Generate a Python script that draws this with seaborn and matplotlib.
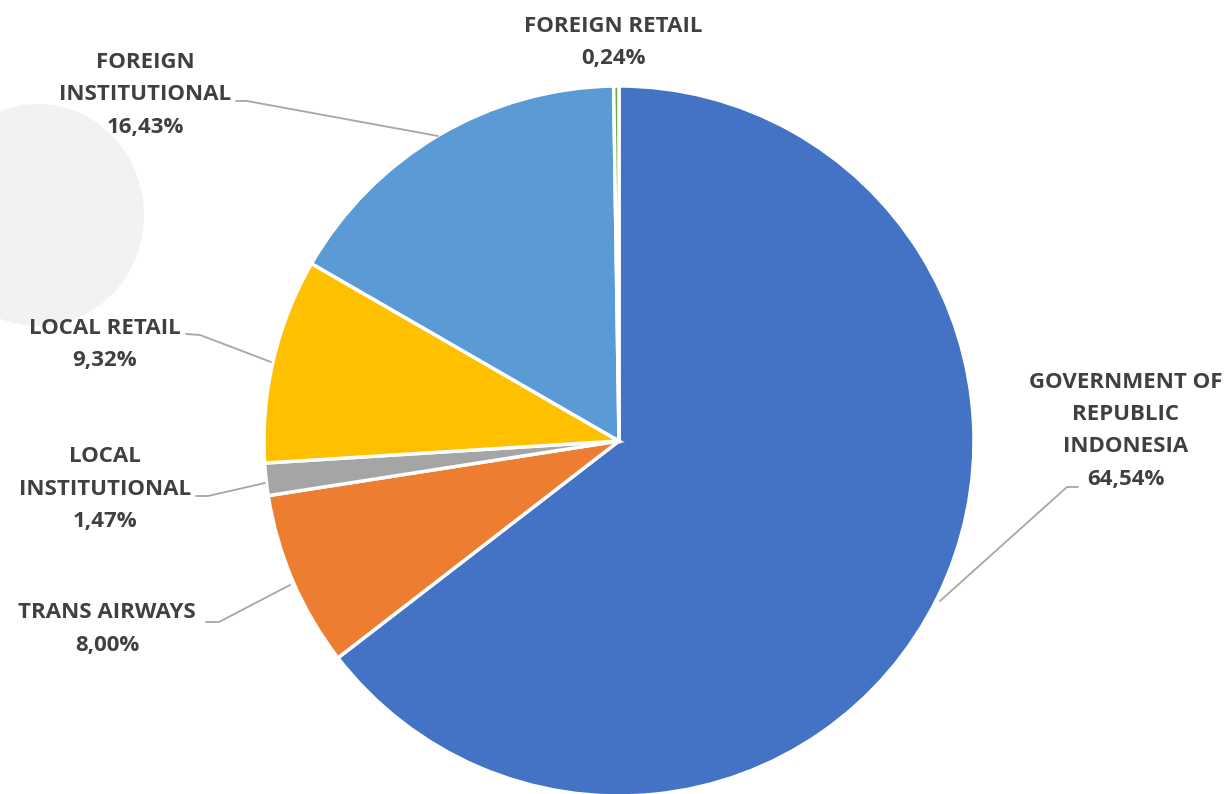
import matplotlib
matplotlib.use("Agg")
import matplotlib.pyplot as plt
import seaborn as sns
from matplotlib.patches import Ellipse

# ---- data ----
categories = ["GOVERNMENT OF\nREPUBLIC\nINDONESIA", "TRANS AIRWAYS", "LOCAL\nINSTITUTIONAL",
              "LOCAL RETAIL", "FOREIGN\nINSTITUTIONAL", "FOREIGN RETAIL"]
shares = [64.54, 8.00, 1.47, 9.32, 16.43, 0.24]
value_labels = ["64,54%", "8,00%", "1,47%", "9,32%", "16,43%", "0,24%"]
colors = ["#4472C4", "#ED7D31", "#A5A5A5", "#FFC000", "#5B9BD5", "#70AD47"]

sns.set_theme(style="white")
plt.rcParams["font.family"] = ["Open Sans", "DejaVu Sans"]

W, H = 1227, 794
fig = plt.figure(figsize=(W / 100, H / 100), dpi=100)
ax = fig.add_axes([0, 0, 1, 1])

def Y(y):
    return H - y

# decorative light-gray blob at left
ax.add_patch(Ellipse((38, Y(215)), 212, 222, facecolor="#F2F2F2", edgecolor="none", zorder=0))

cx, cy, r = 619, 441, 355
ax.pie(shares, colors=colors, startangle=90, counterclock=False,
       center=(cx, Y(cy)), radius=r,
       wedgeprops=dict(edgecolor="white", linewidth=2.5), frame=False)

ax.set_xlim(0, W)
ax.set_ylim(0, H)
ax.set_aspect("equal")
ax.axis("off")

txt_color = "#404040"
line_color = "#A6A6A6"
fs = 16

# label layout: (center x, top line center y)
label_pos = [(1126, 382), (107, 613), (105, 457), (105, 328), (145, 62), (613, 26)]
step = 32.5
for cat, val, (lx, ly) in zip(categories, value_labels, label_pos):
    lines = cat.split("\n") + [val]
    for i, ln in enumerate(lines):
        ax.text(lx, Y(ly + i * step), ln, ha="center", va="center",
                fontsize=fs, fontweight="bold", color=txt_color)

leaders = [
    [(1078, 487), (1067, 487), (940, 601)],
    [(206, 622), (219, 622), (290, 585)],
    [(196, 496), (208, 496), (265, 483)],
    [(186, 334), (200, 335), (271, 362)],
    [(236, 101), (247, 101), (438, 136)],
]
for pts in leaders:
    xs = [p[0] for p in pts]
    ys = [Y(p[1]) for p in pts]
    ax.plot(xs, ys, color=line_color, lw=1.3, zorder=1)

fig.savefig("out.png", dpi=100)
